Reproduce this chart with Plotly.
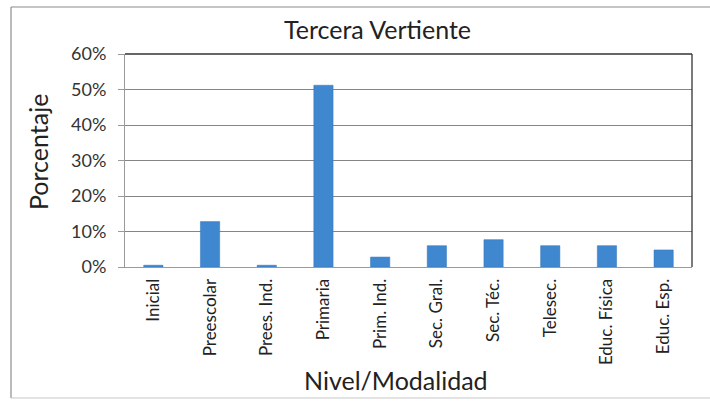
import plotly.graph_objects as go

categories = ["Inicial", "Preescolar", "Prees. Ind.", "Primaria", "Prim. Ind.",
              "Sec. Gral.", "Sec. Téc.", "Telesec.", "Educ. Física", "Educ. Esp."]
values = [0.005, 0.128, 0.005, 0.512, 0.028, 0.060, 0.077, 0.060, 0.060, 0.048]
y_ticks = [0, 0.1, 0.2, 0.3, 0.4, 0.5, 0.6]

W, H = 710, 401
L, R, T, B = 125, 18, 54, 134
pw, ph = W - L - R, H - T - B

def px(x):
    return (x - L) / pw

def py(y):
    return (H - B - y) / ph

fig = go.Figure(go.Bar(
    x=categories, y=values,
    marker=dict(color="#3f87cf", line=dict(color="#3577bb", width=0.5)),
    width=0.34,
))

font = "Lato, 'Noto Sans', sans-serif"
fig.update_layout(
    width=W, height=H,
    margin=dict(l=L, r=R, t=T, b=B, autoexpand=False),
    paper_bgcolor="white", plot_bgcolor="white",
    showlegend=False,
    font=dict(family=font, color="#222", size=14),
)
fig.update_yaxes(
    range=[0, 0.6], tickvals=y_ticks, tickformat=".0%",
    showgrid=True, gridcolor="#858585", gridwidth=1,
    showline=True, linecolor="#9a9a9a", linewidth=1,
    ticks="outside", ticklen=6, tickcolor="#9a9a9a",
    ticklabelstandoff=8,
    zeroline=False, tickfont=dict(size=18, color="#333"),
    automargin=False,
)
fig.update_xaxes(
    tickangle=-90, showline=True, linecolor="#9a9a9a", linewidth=1,
    ticks="", ticklabelstandoff=4,
    tickfont=dict(size=17, color="#222"), automargin=False,
)

shapes = [
    dict(type="line", xref="paper", yref="paper", x0=0, x1=1, y0=1, y1=1,
         line=dict(color="#333", width=1.3)),
    dict(type="line", xref="paper", yref="paper", x0=1, x1=1, y0=0, y1=1,
         line=dict(color="#333", width=1.3)),
    dict(type="line", xref="paper", yref="paper", x0=px(11), x1=px(712), y0=py(7), y1=py(7),
         line=dict(color="#8c8c8c", width=1.2)),
    dict(type="line", xref="paper", yref="paper", x0=px(11), x1=px(11), y0=py(7), y1=py(398),
         line=dict(color="#8c8c8c", width=1.2)),
    dict(type="line", xref="paper", yref="paper", x0=px(11), x1=px(712), y0=py(398), y1=py(398),
         line=dict(color="#c8c8c8", width=1.2)),
]
fig.update_layout(shapes=shapes)

annotations = [
    dict(text="Tercera Vertiente", xref="paper", yref="paper", x=px(377), y=py(29),
         showarrow=False, font=dict(size=25, color="#222"), xanchor="center", yanchor="middle"),
    dict(text="Nivel/Modalidad", xref="paper", yref="paper", x=px(396), y=py(380),
         showarrow=False, font=dict(size=25, color="#222"), xanchor="center", yanchor="middle"),
    dict(text="Porcentaje", xref="paper", yref="paper", x=px(38), y=py(152),
         showarrow=False, textangle=-90, font=dict(size=25, color="#222"),
         xanchor="center", yanchor="middle"),
]
fig.update_layout(annotations=annotations)

fig.write_html("out.html", config={"displayModeBar": False},
               post_script="document.body.style.margin='0';")
